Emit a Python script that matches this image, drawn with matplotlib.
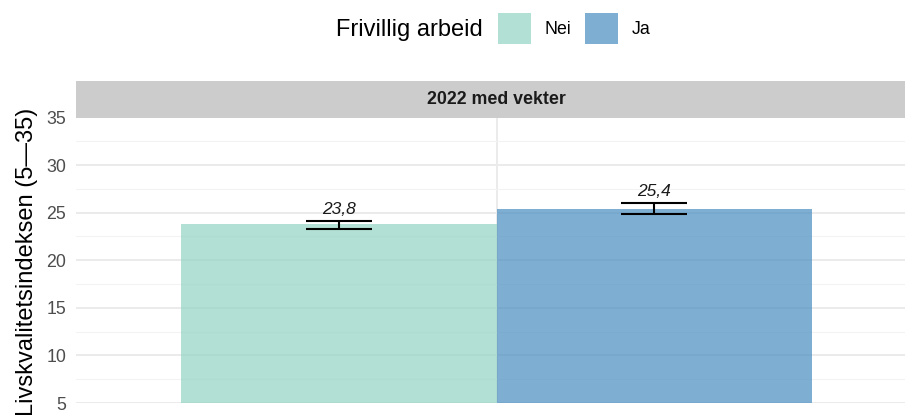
import matplotlib.pyplot as plt
from matplotlib.patches import Patch

plt.rcParams['font.family'] = ['Liberation Sans', 'DejaVu Sans']

# data
groups = ['Nei', 'Ja']
means = [23.8, 25.4]
ci_low = [23.33, 24.82]
ci_high = [24.10, 25.98]
value_labels = ['23,8', '25,4']
facet_title = '2022 med vekter'
legend_title = 'Frivillig arbeid'
y_label = 'Livskvalitetsindeksen (5\u201435)'
y_ticks = [5, 10, 15, 20, 25, 30, 35]

colors = ['#92D3C2', '#488EC0']
W, H = 905, 415

fig = plt.figure(figsize=(W / 100, H / 100), dpi=100)

# panel (extends slightly past the right edge like the original crop)
ax = fig.add_axes([76 / W, 12 / H, 841 / W, 285.5 / H])
ax.set_xlim(0.4, 1.6)
ax.set_ylim(5, 35)

bar_w = 0.45
xs = [1 - bar_w / 2, 1 + bar_w / 2]
for i in range(len(groups)):
    ax.bar(xs[i], means[i] - 5, bottom=5, width=bar_w, color=colors[i],
           alpha=0.7, zorder=2, linewidth=0)
    ax.errorbar(xs[i], means[i],
                yerr=[[means[i] - ci_low[i]], [ci_high[i] - means[i]]],
                fmt='none', ecolor='black', elinewidth=1.5, capsize=24,
                capthick=1.5, zorder=3)
    ax.annotate(value_labels[i], (xs[i], ci_high[i]), xytext=(0, 5),
                textcoords='offset points', ha='center', va='baseline',
                fontsize=12.5, style='italic', color='#1A1A1A', zorder=4)

# grid
ax.set_yticks(y_ticks)
ax.set_yticks([7.5, 12.5, 17.5, 22.5, 27.5, 32.5], minor=True)
ax.set_xticks([1])
ax.set_xticklabels([''])
ax.grid(which='major', color='#EBEBEB', linewidth=1.4, zorder=0)
ax.grid(which='minor', axis='y', color='#F3F3F3', linewidth=0.8, zorder=0)
ax.set_axisbelow(True)
ax.tick_params(axis='both', which='both', length=0)
ax.tick_params(axis='y', labelsize=12.8, labelcolor='#4D4D4D', pad=7)
for s in ax.spines.values():
    s.set_visible(False)

# facet strip
strip = fig.add_axes([76 / W, (H - 118) / H, 841 / W, 37 / H])
strip.set_facecolor('#CCCCCC')
strip.set_xticks([])
strip.set_yticks([])
for s in strip.spines.values():
    s.set_visible(False)
fig.text(496.5 / W, (H - 100) / H, facet_title, ha='center', va='center',
         fontsize=12.8, fontweight='bold', color='#1A1A1A')

# y label
fig.text(27 / W, (H - 262) / H, y_label, rotation=90, ha='center',
         va='center', fontsize=17, color='#000000')

# legend
fig.text(483 / W, (H - 30) / H, legend_title, ha='right', va='center',
         fontsize=17, color='#000000')
handles = [Patch(facecolor=colors[i], alpha=0.7, linewidth=0)
           for i in range(len(groups))]
fig.legend(handles, groups, ncol=2, loc='center left',
           bbox_to_anchor=(497.5 / W, (H - 28.5) / H), frameon=False,
           fontsize=12.8, handlelength=1.9, handleheight=2.3,
           handletextpad=0.75, columnspacing=0.75, borderpad=0,
           borderaxespad=0)

fig.savefig('out.png', dpi=100)
